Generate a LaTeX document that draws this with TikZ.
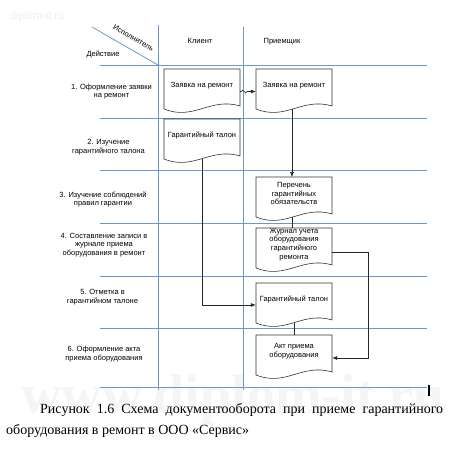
\documentclass[tikz,border=0pt]{standalone}
\usepackage{fontspec}
\setmainfont{Liberation Serif}
\setsansfont{Liberation Sans}
\usetikzlibrary{arrows.meta}
\definecolor{laneblue}{RGB}{110,150,200}
\tikzset{
  doc/.style={minimum width=76pt, minimum height=33pt, inner sep=0pt, align=center, font=\sffamily\fontsize{7.5}{8.7}\selectfont},
  lab/.style={align=center, inner sep=0pt, font=\sffamily\fontsize{7.5}{8.7}\selectfont},
  lane/.style={laneblue, line width=0.8pt},
  docline/.style={black!80, line width=0.6pt},
  flow/.style={black!85, line width=0.6pt, -{Latex[length=5pt,width=4pt]}},
  link/.style={black!85, line width=0.6pt}
}

\begin{document}
\begin{tikzpicture}[x=1pt,y=-1pt]
	\useasboundingbox (0,0) rectangle (466,460);
	% watermarks
	\node[text=black!4, font=\bfseries\fontsize{56}{56}\selectfont, anchor=base west] (wm) at (18,413) {www.diplom-it.ru};
	\node[text=laneblue!15, font=\sffamily\fontsize{11}{11}\selectfont] (wmtop) at (37,17) {diplom-it.ru};
	% table
	\coordinate (dg1) at (92,27);
	\coordinate (dg2) at (158,65);
	\draw[lane] (dg1) -- (dg2);
	\draw[lane] (158,25) -- (158,390);
	\draw[lane] (243,27) -- (243,390);
	\foreach \y in {65,118,170,223,276,328,387}
		\draw[lane] (100,\y) -- (427,\y);
	% header
	\node[lab, rotate=-30] (isp) at (133.5,38) {Исполнитель};
	\node[lab] (act) at (103,54) {Действие};
	\node[lab] (cli) at (200,41) {Клиент};
	\node[lab] (pri) at (282,42) {Приемщик};
	% actions
	\node[lab] (r1) at (111.5,91.5) {1. Оформление заявки\\на ремонт};
	\node[lab] (r2) at (108.5,147.5) {2. Изучение\\гарантийного талона};
	\node[lab] (r3) at (103,199.5) {3. Изучение соблюдений\\правил гарантии};
	\node[lab] (r4) at (104,245) {4. Составление записи в\\журнале приема\\оборудования в ремонт};
	\node[lab] (r5) at (102.5,297.5) {5. Отметка в\\гарантийном талоне};
	\node[lab] (r6) at (104,354) {6. Оформление акта\\приема оборудования};
	% documents
	\node[doc] (zr1) at (202,85.5) {Заявка на ремонт};
	\node[doc] (zr2) at (294,85.5) {Заявка на ремонт};
	\node[doc] (zr3) at (202,135.5) {Гарантийный талон};
	\node[doc] (zr4) at (294,193.5) {Перечень\\гарантийных\\обязательств};
	\node[doc] (zr5) at (294,244.5) {Журнал учета\\оборудования\\гарантийного\\ремонта};
	\node[doc] (zr6) at (294,299.5) {Гарантийный талон};
	\node[doc] (zr7) at (294,351.5) {Акт приема\\оборудования};
	\foreach \d in {zr1,zr2,zr3,zr4,zr5,zr6,zr7}
		\draw[docline] (\d.center) ++(-38,-16.5) -- ++(76,0) -- ++(0,37)
			.. controls +(-30,-9) and +(30,12) .. ++(-76,3) -- cycle;
	% flow
	\draw[flow] ([yshift=-6pt]zr1.east) -- ++(1,0) .. controls +(2,-5) and +(-2,5) .. ++(6,0) -- ([yshift=-6pt]zr2.west);
	\draw[flow] ([xshift=-2pt,yshift=-23.5pt]zr2.center) -- ([xshift=-2pt,yshift=16.5pt]zr4.center);
	\draw[link] ([xshift=-2pt,yshift=-23.5pt]zr4.center) -- ([xshift=-2pt,yshift=16.5pt]zr5.center);
	\draw[flow] ([yshift=-23.5pt]zr3.center) |- ([yshift=-5.5pt]zr6.west);
	\draw[link] ([yshift=-23.5pt]zr6.center) -- ([yshift=16.5pt]zr7.center);
	\draw[flow] ([yshift=-7.5pt]zr5.east) -- ++(36,0) |- ([yshift=-6.5pt]zr7.east);
	\draw[line width=1.6pt] (429,385) -- (429,396);
	% caption
	\node[anchor=north west, text width=437pt, align=justify, inner sep=0pt, font=\fontsize{14}{21}\selectfont] (cap) at (6,403)
		{\hspace*{34pt}Рисунок 1.6 Схема документооборота при приеме гарантийного\linebreak оборудования в ремонт в ООО «Сервис»};
\end{tikzpicture}
\end{document}
